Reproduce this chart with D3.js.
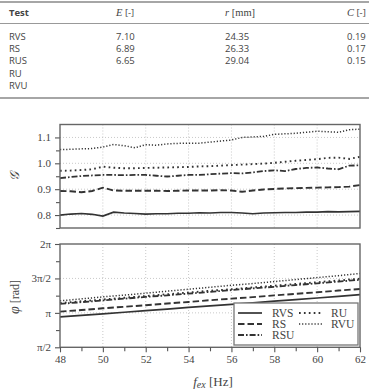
<!DOCTYPE html>
<html>
<head>
<meta charset="utf-8">
<script src="https://cdn.jsdelivr.net/npm/d3@7"></script>
<style>
body { margin: 0; background: #fff; }
svg text { fill: #444; }
.tbl text { font-family: "Open Sans", "DejaVu Sans", sans-serif; font-size: 9.5px; }
.ax text { font-family: "Liberation Serif", "DejaVu Serif", serif; font-size: 11px; }
</style>
</head>
<body>
<div id="chart"></div>
<script>
// table
var tableTests = ["RVS", "RS", "RUS", "RU", "RVU"];
var tableE = ["7.10", "6.89", "6.65", "", ""];
var tableR = ["24.35", "26.33", "29.04", "", ""];
var tableC = ["0.19", "0.17", "0.15", "", ""];

// gain, sampled every 0.5 Hz
var freq = [48, 48.5, 49, 49.5, 50, 50.5, 51, 51.5, 52, 52.5, 53, 53.5, 54, 54.5, 55,
            55.5, 56, 56.5, 57, 57.5, 58, 58.5, 59, 59.5, 60, 60.5, 61, 61.5, 62];
var gainRVS = [0.800, 0.804, 0.806, 0.803, 0.796, 0.811, 0.808, 0.806, 0.804, 0.805, 0.805, 0.807, 0.807, 0.809, 0.808,
               0.810, 0.810, 0.808, 0.805, 0.808, 0.809, 0.810, 0.810, 0.811, 0.811, 0.813, 0.812, 0.813, 0.814];
var gainRS = [0.893, 0.892, 0.888, 0.893, 0.906, 0.895, 0.894, 0.894, 0.894, 0.894, 0.893, 0.894, 0.895, 0.895, 0.895,
              0.896, 0.895, 0.890, 0.895, 0.899, 0.901, 0.903, 0.904, 0.905, 0.906, 0.907, 0.908, 0.910, 0.916];
var gainRSU = [0.943, 0.947, 0.951, 0.953, 0.955, 0.955, 0.954, 0.955, 0.955, 0.952, 0.949, 0.952, 0.955, 0.955, 0.958,
               0.960, 0.962, 0.961, 0.965, 0.970, 0.973, 0.970, 0.978, 0.982, 0.984, 0.980, 0.977, 0.991, 0.992];
var gainRU = [0.971, 0.972, 0.974, 0.977, 0.987, 0.983, 0.981, 0.981, 0.982, 0.983, 0.984, 0.985, 0.986, 0.988, 0.989,
              0.991, 0.993, 0.995, 0.997, 0.999, 1.002, 1.006, 1.010, 1.013, 1.016, 1.021, 1.022, 1.017, 1.025];
var gainRVU = [1.053, 1.054, 1.056, 1.057, 1.063, 1.073, 1.068, 1.060, 1.072, 1.070, 1.075, 1.077, 1.078, 1.078, 1.082,
               1.086, 1.090, 1.100, 1.102, 1.104, 1.112, 1.114, 1.116, 1.120, 1.124, 1.122, 1.120, 1.130, 1.132];

// phase, sampled every 1 Hz
var freqPhase = [48, 49, 50, 51, 52, 53, 54, 55, 56, 57, 58, 59, 60, 61, 62];
var phaseRVS = [2.96, 3.03, 3.10, 3.17, 3.24, 3.31, 3.39, 3.46, 3.53, 3.60, 3.68, 3.75, 3.82, 3.89, 3.97];
var phaseRS = [3.20, 3.27, 3.35, 3.42, 3.49, 3.57, 3.64, 3.72, 3.79, 3.86, 3.94, 4.01, 4.08, 4.16, 4.23];
var phaseRSU = [3.55, 3.63, 3.71, 3.79, 3.87, 3.94, 4.02, 4.10, 4.18, 4.26, 4.33, 4.41, 4.49, 4.57, 4.65];
var phaseRU = [3.59, 3.67, 3.75, 3.83, 3.91, 3.99, 4.07, 4.15, 4.22, 4.30, 4.38, 4.46, 4.54, 4.62, 4.70];
var phaseRVU = [3.69, 3.78, 3.87, 3.95, 4.04, 4.13, 4.22, 4.31, 4.40, 4.48, 4.57, 4.66, 4.75, 4.84, 4.94];

var xTicks = [48, 50, 52, 54, 56, 58, 60, 62];
var xMinor = [49, 51, 53, 55, 57, 59, 61];
var gainTicks = [0.8, 0.9, 1.0, 1.1];
var gainMinor = [0.75, 0.85, 0.95, 1.05];
var phaseTicks = [Math.PI / 2, Math.PI, 3 * Math.PI / 2, 2 * Math.PI];
var phaseTickLabels = ["π/2", "π", "3π/2", "2π"];
var phaseMinor = [3 * Math.PI / 4, 5 * Math.PI / 4, 7 * Math.PI / 4];

var styles = {
  RVS: {dash: null, w: 1.7},
  RS: {dash: "6.5,3", w: 1.9},
  RSU: {dash: "6,2,1.6,2", w: 1.8},
  RU: {dash: "1.7,3.2", w: 1.9},
  RVU: {dash: "1.2,1.9", w: 1.5}
};
var gainSeries = [["RVS", gainRVS], ["RS", gainRS], ["RSU", gainRSU], ["RU", gainRU], ["RVU", gainRVU]];
var phaseSeries = [["RVS", phaseRVS], ["RS", phaseRS], ["RSU", phaseRSU], ["RU", phaseRU], ["RVU", phaseRVU]];

var svg = d3.select("#chart").append("svg")
    .attr("width", 370)
    .attr("height", 391);

// ---- table ----
var tbl = svg.append("g").attr("class", "tbl");
tbl.append("line").attr("x1", 0).attr("x2", 369).attr("y1", 2).attr("y2", 2)
    .attr("stroke", "#888").attr("stroke-width", 1.5);
tbl.append("line").attr("x1", 0).attr("x2", 369).attr("y1", 23.5).attr("y2", 23.5)
    .attr("stroke", "#999").attr("stroke-width", 1);
tbl.append("line").attr("x1", 0).attr("x2", 369).attr("y1", 98).attr("y2", 98)
    .attr("stroke", "#888").attr("stroke-width", 1.5);

var hdr = tbl.append("g").attr("transform", "translate(0,15.5)");
hdr.append("text").attr("x", 9).style("font-weight", "bold").text("Test");
var h1 = hdr.append("text").attr("x", 116);
h1.append("tspan").style("font-style", "italic").style("font-family", "Liberation Serif, serif").style("font-size", "10.5px").text("E");
h1.append("tspan").text(" [-]");
var h2 = hdr.append("text").attr("x", 225);
h2.append("tspan").style("font-style", "italic").style("font-family", "Liberation Serif, serif").style("font-size", "10.5px").text("r");
h2.append("tspan").style("font-family", "Liberation Serif, serif").style("font-size", "10.5px").text(" [mm]");
var h3 = hdr.append("text").attr("x", 347);
h3.append("tspan").style("font-style", "italic").style("font-family", "Liberation Serif, serif").style("font-size", "10.5px").text("C");
h3.append("tspan").text(" [-]");

var rowY = d3.scaleLinear().domain([0, 4]).range([39.5, 89]);
var rows = tbl.selectAll(".row")
    .data(tableTests)
  .enter().append("g")
    .attr("class", "row")
    .attr("transform", function(d, i) { return "translate(0," + rowY(i) + ")"; });
rows.append("text").attr("x", 9).text(function(d) { return d; });
rows.append("text").attr("x", 116).text(function(d, i) { return tableE[i]; });
rows.append("text").attr("x", 225).text(function(d, i) { return tableR[i]; });
rows.append("text").attr("x", 347).text(function(d, i) { return tableC[i]; });

// ---- charts ----
var x = d3.scaleLinear().domain([48, 62]).range([60, 360]);
var yGain = d3.scaleLinear().domain([0.75, 1.15]).range([228, 124.5]);
var yPhase = d3.scaleLinear().domain([Math.PI / 2, 2 * Math.PI]).range([347.3, 244]);

function panel(y, ticks, tickFmt, minor, series, xs) {
  var g = svg.append("g").attr("class", "ax");
  var top = y.range()[1], bot = y.range()[0];

  // dotted grid
  g.selectAll(".vg").data(xTicks.slice(1, -1)).enter().append("line")
      .attr("x1", function(d) { return x(d); }).attr("x2", function(d) { return x(d); })
      .attr("y1", top).attr("y2", bot)
      .attr("stroke", "#bbb").attr("stroke-width", 0.8).attr("stroke-dasharray", "1,2");
  g.selectAll(".hg").data(ticks.filter(function(d) { return y(d) > top + 1 && y(d) < bot - 1; })).enter().append("line")
      .attr("x1", 60).attr("x2", 360)
      .attr("y1", function(d) { return y(d); }).attr("y2", function(d) { return y(d); })
      .attr("stroke", "#bbb").attr("stroke-width", 0.8).attr("stroke-dasharray", "1,2");

  // y axis
  var ya = g.append("g").attr("transform", "translate(60,0)")
      .call(d3.axisLeft(y).tickValues(ticks).tickFormat(tickFmt).tickSize(5).tickPadding(4));
  ya.select(".domain").remove();
  ya.selectAll("line").attr("stroke", "#555").attr("stroke-width", 1.1);
  ya.selectAll("text").attr("fill", "#555").style("font-family", "Liberation Serif, serif").style("font-size", "11px");
  var ym = g.append("g").attr("transform", "translate(60,0)")
      .call(d3.axisLeft(y).tickValues(minor).tickFormat("").tickSize(4));
  ym.select(".domain").remove();
  ym.selectAll("line").attr("stroke", "#555").attr("stroke-width", 1.1);

  // lines
  series.forEach(function(s) {
    var st = styles[s[0]];
    var line = d3.line().x(function(d, i) { return x(xs[i]); }).y(function(d) { return y(d); });
    g.append("path").datum(s[1])
        .attr("d", line)
        .attr("fill", "none")
        .attr("stroke", "#333")
        .attr("stroke-width", st.w)
        .attr("stroke-dasharray", st.dash);
  });

  // frame
  g.append("rect").attr("x", 60).attr("y", top).attr("width", 300).attr("height", bot - top)
      .attr("fill", "none").attr("stroke", "#666").attr("stroke-width", 1.4);
  return g;
}

panel(yGain, gainTicks, d3.format(".1f"), gainMinor, gainSeries, freq);
var gp = panel(yPhase, phaseTicks, function(d, i) { return phaseTickLabels[i]; }, phaseMinor, phaseSeries, freqPhase);

// x axis on the phase panel
var xa = gp.append("g").attr("transform", "translate(0,347.3)")
    .call(d3.axisBottom(x).tickValues(xTicks).tickFormat(d3.format("d")).tickSize(5).tickPadding(3));
xa.select(".domain").remove();
xa.selectAll("line").attr("stroke", "#555").attr("stroke-width", 1.1);
xa.selectAll("text").attr("fill", "#555").style("font-family", "Liberation Serif, serif").style("font-size", "11px");
var xm = gp.append("g").attr("transform", "translate(0,347.3)")
    .call(d3.axisBottom(x).tickValues(xMinor).tickFormat("").tickSize(4));
xm.select(".domain").remove();
xm.selectAll("line").attr("stroke", "#555").attr("stroke-width", 1.1);

// axis titles
svg.append("text")
    .attr("transform", "translate(19,176) rotate(-90)")
    .attr("text-anchor", "middle")
    .style("font-family", "DejaVu Serif, serif").style("font-style", "italic").style("font-size", "13px")
    .attr("fill", "#444")
    .text("𝒢");
var pt = svg.append("text")
    .attr("transform", "translate(19,297) rotate(-90)")
    .attr("text-anchor", "middle")
    .style("font-family", "Liberation Serif, serif").style("font-size", "12px")
    .attr("fill", "#444");
pt.append("tspan").style("font-style", "italic").style("font-size", "14px").text("φ");
pt.append("tspan").text(" [rad]");
var xt = svg.append("text")
    .attr("x", 213).attr("y", 386)
    .attr("text-anchor", "middle")
    .style("font-family", "Liberation Serif, serif").style("font-size", "13px")
    .attr("fill", "#444");
xt.append("tspan").style("font-style", "italic").text("f");
xt.append("tspan").style("font-style", "italic").style("font-size", "10px").attr("dy", 2).text("ex");
xt.append("tspan").attr("dy", -2).text(" [Hz]");

// legend
var leg = svg.append("g").attr("class", "ax");
leg.append("rect").attr("x", 234).attr("y", 303).attr("width", 124).attr("height", 42)
    .attr("fill", "#fff").attr("stroke", "#777").attr("stroke-width", 1.3);
var legItems = [["RVS", 0, 0], ["RS", 0, 1], ["RSU", 0, 2], ["RU", 1, 0], ["RVU", 1, 1]];
var li = leg.selectAll(".li").data(legItems).enter().append("g")
    .attr("transform", function(d) { return "translate(" + (238 + d[1] * 61) + "," + (313 + d[2] * 11) + ")"; });
li.append("line").attr("x1", 0).attr("x2", 24).attr("y1", 0).attr("y2", 0)
    .attr("stroke", "#333")
    .attr("stroke-width", function(d) { return styles[d[0]].w; })
    .attr("stroke-dasharray", function(d) { return styles[d[0]].dash; });
li.append("text").attr("x", function(d) { return d[1] ? 32 : 34; }).attr("y", 4)
    .attr("fill", "#444")
    .style("font-family", "Liberation Serif, serif").style("font-size", "11.5px")
    .text(function(d) { return d[0]; });
</script>
</body>
</html>
